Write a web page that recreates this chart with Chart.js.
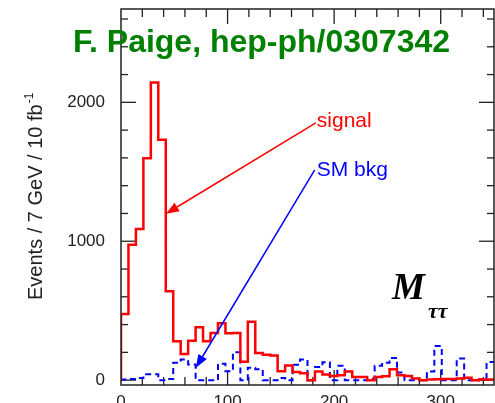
<!DOCTYPE html>
<html>
<head>
<meta charset="utf-8">
<script src="https://cdn.jsdelivr.net/npm/chart.js@4.4.1/dist/chart.umd.min.js"></script>
<style>
  html, body { margin: 0; padding: 0; background: #fff; }
  canvas { display: block; }
</style>
</head>
<body>
<canvas id="grafico_mtt" width="495" height="403"></canvas>
<script>
// M_tautau, 7 GeV bins from 0 to 350 GeV
const largura_bin = 7;
const sinal = [
  476, 975, 1088, 1598, 2143, 1730, 640, 280, 188, 284,
  380, 280, 340, 410, 338, 340, 132, 420, 196, 182,
  178, 64, 105, 59, 50, 0, 63, 40, 30, 35,
  63, 23, 23, 0, 22, 28, 78, 35, 30, 12,
  0, 4, 6, 8, 9, 12, 18, 0, 5, 5
];
const fundo_sm = [
  4, 8, 15, 42, 42, 0, 8, 125, 148, 112,
  0, 0, 0, 118, 64, 200, 0, 90, 78, 0,
  0, 15, 0, 111, 148, 0, 95, 128, 0, 103,
  0, 0, 0, 10, 104, 125, 160, 55, 0, 0,
  0, 63, 245, 0, 0, 155, 0, 0, 5, 130
];
const ticks_x = [0, 100, 200, 300];
const ticks_y = [0, 1000, 2000];

const fonte = '"Liberation Sans", Arial, sans-serif';

// step outline: start on the baseline, one point per bin left edge,
// last bin closed at 350 GeV (stepped 'before' keeps each value up to the next edge)
function degraus(valores) {
  const pts = [{ x: 0, y: 0 }];
  valores.forEach((v, i) => pts.push({ x: i * largura_bin, y: v }));
  pts.push({ x: valores.length * largura_bin, y: valores[valores.length - 1] });
  return pts;
}

function linha(ctx, x0, y0, x1, y1) {
  ctx.beginPath();
  ctx.moveTo(x0, y0);
  ctx.lineTo(x1, y1);
  ctx.stroke();
}

function seta(ctx, x0, y0, x1, y1, cor) {
  const ang = Math.atan2(y1 - y0, x1 - x0);
  const c = Math.cos(ang), s = Math.sin(ang);
  const comp = 13, meia = 5;
  ctx.strokeStyle = cor;
  ctx.fillStyle = cor;
  ctx.lineWidth = 1.5;
  linha(ctx, x0, y0, x1 - comp * c, y1 - comp * s);
  ctx.beginPath();
  ctx.moveTo(x1, y1);
  ctx.lineTo(x1 - comp * c + meia * s, y1 - comp * s - meia * c);
  ctx.lineTo(x1 - comp * c - meia * s, y1 - comp * s + meia * c);
  ctx.closePath();
  ctx.fill();
}

// arrows in data coordinates: [x0, y0, x1, y1]
const seta_sinal = [182.8, 1852, 42.2, 1198];
const seta_fundo = [181.8, 1514, 70.3, 90];

const moldura = {
  id: 'moldura',
  beforeDatasetsDraw(chart) {
    const { ctx, chartArea: a, scales: { x, y } } = chart;
    ctx.save();
    ctx.strokeStyle = '#222';
    ctx.lineWidth = 1.3;
    for (let v = 20; v < 350; v += 20) {
      const px = x.getPixelForValue(v);
      const len = v % 100 === 0 ? 15 : 8;
      linha(ctx, px, a.bottom, px, a.bottom - len);
      linha(ctx, px, a.top, px, a.top + len);
    }
    for (let v = 0; v <= 2600; v += 200) {
      const py = y.getPixelForValue(v);
      const len = v % 1000 === 0 ? 15 : 7;
      linha(ctx, a.left, py, a.left + len, py);
      linha(ctx, a.right, py, a.right - len, py);
    }
    ctx.restore();
  },
  afterDatasetsDraw(chart) {
    const { ctx, chartArea: a, scales: { x, y } } = chart;
    ctx.save();
    ctx.strokeStyle = '#222';
    ctx.lineWidth = 1.5;
    ctx.strokeRect(a.left, a.top, a.right - a.left, a.bottom - a.top);

    // arrows and their labels
    const s0 = [x.getPixelForValue(seta_sinal[0]), y.getPixelForValue(seta_sinal[1])];
    seta(ctx, s0[0], s0[1], x.getPixelForValue(seta_sinal[2]), y.getPixelForValue(seta_sinal[3]), '#ff0000');
    const b0 = [x.getPixelForValue(seta_fundo[0]), y.getPixelForValue(seta_fundo[1])];
    seta(ctx, b0[0], b0[1], x.getPixelForValue(seta_fundo[2]), y.getPixelForValue(seta_fundo[3]), '#0000ff');

    ctx.font = '21px ' + fonte;
    ctx.textAlign = 'left';
    ctx.textBaseline = 'alphabetic';
    ctx.fillStyle = '#ff0000';
    ctx.fillText('signal', s0[0] + 1, s0[1] + 4);
    ctx.fillStyle = '#0000ff';
    ctx.fillText('SM bkg', b0[0] + 2, b0[1] + 6);

    // M_tautau
    ctx.fillStyle = '#000';
    ctx.font = 'italic bold 37px "Liberation Serif", "Times New Roman", serif';
    ctx.fillText('M', 392, 299);
    ctx.font = 'italic bold 22px "Liberation Serif", "Times New Roman", serif';
    ctx.fillText('ττ', 428, 318);

    // y axis title with superscript
    ctx.save();
    ctx.translate(42, 300);
    ctx.rotate(-Math.PI / 2);
    ctx.fillStyle = '#222';
    ctx.font = '20px ' + fonte;
    const titulo_y = 'Events / 7 GeV / 10 fb';
    ctx.fillText(titulo_y, 0, 0);
    const w = ctx.measureText(titulo_y).width;
    ctx.font = '12px ' + fonte;
    ctx.fillText('-1', w + 1, -9);
    ctx.restore();

    // reference line on top
    ctx.fillStyle = '#008000';
    ctx.font = 'bold 32px ' + fonte;
    ctx.fillText('F. Paige, hep-ph/0307342', 73, 52);
    ctx.restore();
  }
};

const ctx_mtt = document.getElementById('grafico_mtt').getContext('2d');

const grafico_mtt = new Chart(ctx_mtt, {
  type: 'line',
  data: {
    datasets: [
      {
        label: 'signal',
        data: degraus(sinal),
        stepped: 'before',
        borderColor: '#ff0000',
        borderWidth: 2.5,
        pointRadius: 0,
        fill: false
      },
      {
        label: 'SM bkg',
        data: degraus(fundo_sm),
        stepped: 'before',
        borderColor: '#0000ff',
        borderWidth: 2,
        borderDash: [6, 4],
        pointRadius: 0,
        fill: false
      }
    ]
  },
  options: {
    responsive: false,
    animation: false,
    devicePixelRatio: 1,
    layout: { padding: { top: 9, right: 1, left: 0, bottom: 0 } },
    plugins: { legend: { display: false }, tooltip: { enabled: false } },
    scales: {
      x: {
        type: 'linear',
        min: 0,
        max: 350,
        grid: { display: false, drawTicks: false },
        border: { display: false },
        ticks: {
          color: '#222', font: { family: fonte, size: 17 }, padding: 7, maxRotation: 0,
          callback: v => String(v)
        },
        afterBuildTicks(scale) { scale.ticks = ticks_x.map(v => ({ value: v })); },
        afterFit(scale) { scale.height = 18; scale.paddingLeft = 0; scale.paddingRight = 0; }
      },
      y: {
        type: 'linear',
        min: -35,
        max: 2672,
        grid: { display: false, drawTicks: false },
        border: { display: false },
        ticks: {
          color: '#222', font: { family: fonte, size: 17 }, padding: 16,
          callback: v => String(v)
        },
        afterBuildTicks(scale) { scale.ticks = ticks_y.map(v => ({ value: v })); },
        afterFit(scale) { scale.width = 121; scale.paddingTop = 0; scale.paddingBottom = 0; }
      }
    }
  },
  plugins: [moldura]
});
</script>
</body>
</html>
